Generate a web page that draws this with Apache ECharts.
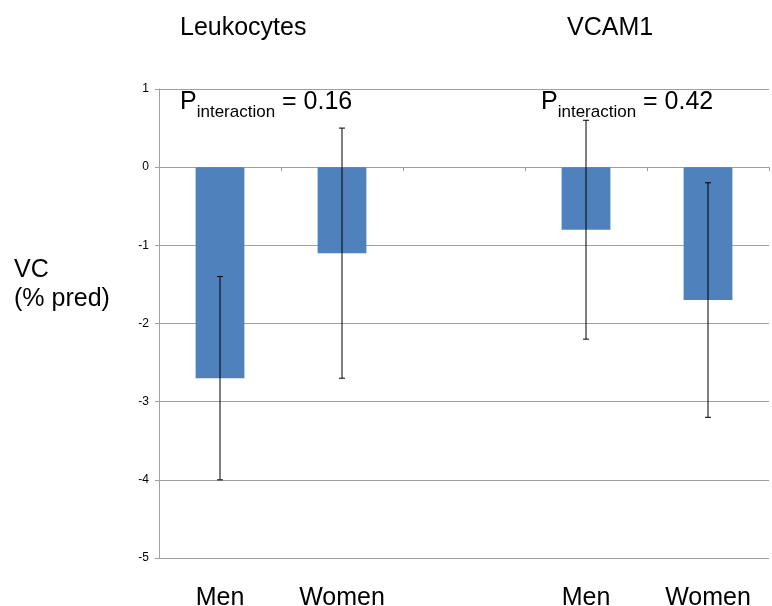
<!DOCTYPE html>
<html>
<head>
<meta charset="utf-8">
<script src="https://cdn.jsdelivr.net/npm/echarts@6/dist/echarts.min.js"></script>
<style>html,body{margin:0;padding:0;background:#fff;}#c{width:772px;height:606px;}</style>
</head>
<body>
<div id="c"></div>
<script>
var categories = ['Men', 'Women', '', 'Men', 'Women'];
var means = [-2.7, -1.1, null, -0.8, -1.7];
var lower = [-4.0, -2.7, null, -2.2, -3.2];
var upper = [-1.4, 0.5, null, 0.6, -0.2];
var yTicks = [-5, -4, -3, -2, -1, 0, 1];
var groupTitles = ['Leukocytes', 'VCAM1'];
var pValues = ['0.16', '0.42'];

var FONT = '"Liberation Sans", Arial, Helvetica, sans-serif';
var chart = echarts.init(document.getElementById('c'));

var errData = [];
for (var i = 0; i < categories.length; i++) {
  if (lower[i] !== null) errData.push([i, lower[i], upper[i]]);
}

function pText(v) {
  return '{p|P}{s|interaction}{p| = ' + v + '}';
}
var pRich = {
  p: { fontSize: 25, fontFamily: FONT, color: '#000', verticalAlign: 'bottom', lineHeight: 26 },
  s: { fontSize: 17, fontFamily: FONT, color: '#000', verticalAlign: 'bottom', lineHeight: 18, padding: [0, 0, -6, 0] }
};

chart.setOption({
  animation: false,
  backgroundColor: '#fff',
  grid: { left: 159, right: 3, top: 89, bottom: 48, containLabel: false, outerBoundsMode: 'none' },
  xAxis: [{
    type: 'category',
    data: categories,
    position: 'bottom',
    axisLine: { show: false, onZero: false },
    axisTick: { show: false },
    axisLabel: { fontSize: 25, fontFamily: FONT, color: '#000', margin: 28, interval: 0 }
  }, {
    type: 'category',
    data: categories,
    position: 'bottom',
    axisLine: { show: true, onZero: true, lineStyle: { color: '#a0a0a0', width: 1 } },
    axisTick: { show: true, length: 4, inside: false, lineStyle: { color: '#a0a0a0' } },
    axisLabel: { show: false }
  }],
  yAxis: {
    type: 'value',
    min: yTicks[0],
    max: yTicks[yTicks.length - 1],
    interval: 1,
    axisLine: { show: true, lineStyle: { color: '#a0a0a0', width: 1 } },
    axisTick: { show: true, length: 4, lineStyle: { color: '#a0a0a0' } },
    axisLabel: { fontSize: 12, fontFamily: FONT, color: '#000', margin: 10 },
    splitLine: { show: true, lineStyle: { color: '#a0a0a0', width: 1 } }
  },
  series: [{
    type: 'bar',
    data: means,
    barWidth: '40%',
    itemStyle: { color: '#4f81bd' },
    xAxisIndex: 0
  }, {
    type: 'custom',
    xAxisIndex: 0,
    data: errData,
    z: 10,
    renderItem: function (params, api) {
      var x = api.value(0);
      var lo = api.coord([x, api.value(1)]);
      var hi = api.coord([x, api.value(2)]);
      var cw = 3;
      var st = { stroke: '#000', lineWidth: 1 };
      return {
        type: 'group',
        children: [
          { type: 'line', shape: { x1: lo[0], y1: lo[1], x2: hi[0], y2: hi[1] }, style: st },
          { type: 'line', shape: { x1: lo[0] - cw, y1: lo[1], x2: lo[0] + cw, y2: lo[1] }, style: st },
          { type: 'line', shape: { x1: hi[0] - cw, y1: hi[1], x2: hi[0] + cw, y2: hi[1] }, style: st }
        ]
      };
    }
  }],
  graphic: [
    { type: 'text', left: 180, top: 16, style: { text: groupTitles[0], fontSize: 25, fontFamily: FONT, fill: '#000' } },
    { type: 'text', left: 567, top: 16, style: { text: groupTitles[1], fontSize: 25, fontFamily: FONT, fill: '#000' } },
    { type: 'text', left: 180, top: 90, z: 20, style: { text: pText(pValues[0]), rich: pRich } },
    { type: 'text', left: 541, top: 90, z: 20, style: { text: pText(pValues[1]), rich: pRich } },
    { type: 'text', left: 14, top: 256, style: { text: 'VC\n(% pred)', fontSize: 25, lineHeight: 29, fontFamily: FONT, fill: '#000' } }
  ]
});
</script>
</body>
</html>
